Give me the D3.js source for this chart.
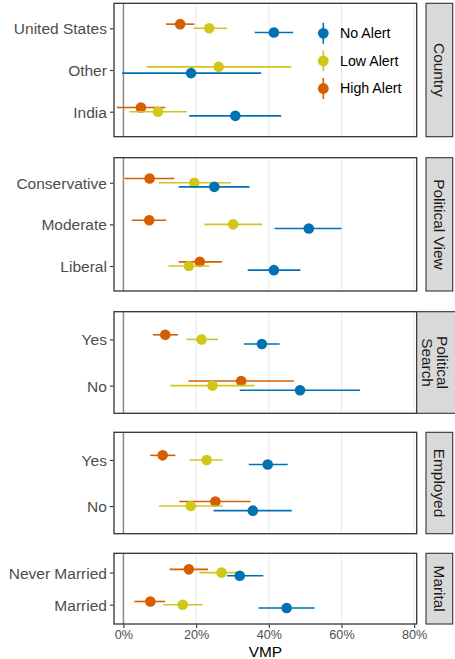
<!DOCTYPE html>
<html><head><meta charset="utf-8">
<script src="https://cdn.jsdelivr.net/npm/d3@7"></script>
<style>body{margin:0;background:#fff}svg{display:block}text{font-family:"Liberation Sans",Arial,sans-serif}</style>
</head><body><svg id="c" width="455" height="659"></svg>
<script>
// ---- data ----
const groups = ["No Alert", "Low Alert", "High Alert"];
const tickValues = [0, 20, 40, 60, 80];
const tickLabels = ["0%", "20%", "40%", "60%", "80%"];
const facetNames = ["Country", "Political View", "Political\nSearch", "Employed", "Marital"];

// each entry: [estimate, low, high] in %, null = missing
const countryCats = ["United States", "Other", "India"];
const countryNo   = [[41.4, 36.1, 46.7], [18.6, -0.4, 37.9], [30.8, 18.1, 43.4]];
const countryLow  = [[23.6, 19.3, 28.5], [26.2, 6.4, 46.2], [9.5, 1.6, 17.5]];
const countryHigh = [[15.6, 11.7, 19.5], null, [4.8, -1.8, 11.5]];

const viewCats = ["Conservative", "Moderate", "Liberal"];
const viewNo   = [[25.0, 15.2, 34.7], [51.0, 41.6, 60.0], [41.4, 34.2, 48.7]];
const viewLow  = [[19.5, 9.7, 29.6], [30.2, 22.3, 38.2], [18.0, 12.4, 23.6]];
const viewHigh = [[7.2, 0.3, 14.0], [7.1, 2.3, 11.8], [21.0, 15.2, 27.1]];

const searchCats = ["Yes", "No"];
const searchNo   = [[38.1, 33.1, 43.0], [48.6, 32.0, 65.1]];
const searchLow  = [[21.5, 17.3, 26.0], [24.5, 12.9, 36.1]];
const searchHigh = [[11.5, 8.1, 15.0], [32.4, 17.9, 46.9]];

const employedCats = ["Yes", "No"];
const employedNo   = [[39.7, 34.5, 45.2], [35.6, 24.8, 46.3]];
const employedLow  = [[22.9, 18.2, 27.3], [18.5, 9.8, 27.3]];
const employedHigh = [[10.8, 7.4, 14.3], [25.3, 15.4, 35.0]];

const maritalCats = ["Never Married", "Married"];
const maritalNo   = [[32.0, 28.5, 38.5], [44.9, 37.2, 52.6]];
const maritalLow  = [[27.0, 20.9, 31.4], [16.3, 11.0, 21.8]];
const maritalHigh = [[18.0, 12.7, 23.3], [7.4, 3.0, 11.5]];

const facetCats = [countryCats, viewCats, searchCats, employedCats, maritalCats];
const facetSeries = [
  [countryNo, countryLow, countryHigh],
  [viewNo, viewLow, viewHigh],
  [searchNo, searchLow, searchHigh],
  [employedNo, employedLow, employedHigh],
  [maritalNo, maritalLow, maritalHigh]
];

// ---- layout ----
const colors = {"No Alert": "#0072B2", "Low Alert": "#D0C71A", "High Alert": "#D55E00"};
const panelX0 = 114, panelX1 = 416.7;
const panelY = [[3.3, 136.7], [157.7, 291], [311.7, 413.3], [432.3, 533.7], [553.3, 624]];
const x = d3.scaleLinear().domain([-2.6, 80.7]).range([panelX0, panelX1]);
const svg = d3.select("#c");
const dark = "#333333", axisTextCol = "#4d4d4d";

facetNames.forEach((fname, fi) => {
  const [y0, y1] = panelY[fi];
  const cats = facetCats[fi];
  const y = d3.scalePoint().domain(cats).range([y0, y1]).padding(0.6);
  const step = y.step();
  const g = svg.append("g");

  // grid
  g.selectAll(".grid").data(tickValues).enter().append("line")
    .attr("x1", d => x(d)).attr("x2", d => x(d)).attr("y1", y0).attr("y2", y1)
    .attr("stroke", "#ebebeb").attr("stroke-width", 1.1);
  // zero line
  g.append("line").attr("x1", x(0)).attr("x2", x(0)).attr("y1", y0).attr("y2", y1)
    .attr("stroke", "#8a8a8a").attr("stroke-width", 1.5);

  // data
  const pts = [];
  cats.forEach((c, ci) => {
    const present = groups.map((gname, gi) => ({gname, v: facetSeries[fi][gi][ci]})).filter(d => d.v);
    const n = present.length;
    const w = 0.3 / n;
    const ordered = present.slice().reverse();
    ordered.forEach((d, k) => {
      const off = (k - (n - 1) / 2) * w * step;
      pts.push({gname: d.gname, v: d.v, yy: y(c) + off});
    });
  });
  pts.forEach(p => {
    g.append("line").attr("x1", x(p.v[1])).attr("x2", x(p.v[2])).attr("y1", p.yy).attr("y2", p.yy)
      .attr("stroke", colors[p.gname]).attr("stroke-width", 1.6);
    g.append("circle").attr("cx", x(p.v[0])).attr("cy", p.yy).attr("r", 5.3)
      .attr("fill", colors[p.gname]);
  });

  // border
  g.append("rect").attr("x", panelX0).attr("y", y0).attr("width", panelX1 - panelX0).attr("height", y1 - y0)
    .attr("fill", "none").attr("stroke", dark).attr("stroke-width", 1.3);

  // y axis
  const ya = d3.axisLeft(y).tickSize(3.5).tickPadding(3);
  const yg = g.append("g").attr("transform", `translate(${panelX0 - 0.6},0)`).call(ya);
  yg.select(".domain").remove();
  yg.selectAll("line").attr("stroke", dark).attr("stroke-width", 1.1);
  yg.selectAll("text").attr("fill", axisTextCol).style("font-size", "15.5px").attr("dy", "0.35em");

  // strip
  const isTwo = fname.includes("\n");
  const sx0 = isTwo ? 416.7 : 426, sx1 = isTwo ? 456 : 452.7;
  g.append("rect").attr("x", sx0).attr("y", y0).attr("width", sx1 - sx0).attr("height", y1 - y0)
    .attr("fill", "#d9d9d9").attr("stroke", dark).attr("stroke-width", 1.1);
  const lines = fname.split("\n");
  const cx = (sx0 + Math.min(sx1, 455)) / 2 + (isTwo ? -1 : 0), cy = (y0 + y1) / 2;
  const t = g.append("text").attr("transform", `translate(${cx},${cy}) rotate(90)`)
    .attr("text-anchor", "middle").attr("fill", "#1a1a1a").style("font-size", "15.4px");
  lines.forEach((l, i) => {
    t.append("tspan").attr("x", 0).attr("y", (i - (lines.length - 1) / 2) * 15.5).attr("dy", "0.35em").text(l);
  });

  // x axis on last panel
  if (fi === facetNames.length - 1) {
    const xa = d3.axisBottom(x).tickValues(tickValues).tickFormat((d, i) => tickLabels[i]).tickSize(3.5).tickPadding(2);
    const xg = g.append("g").attr("transform", `translate(0,${y1 + 0.6})`).call(xa);
    xg.select(".domain").remove();
    xg.selectAll("line").attr("stroke", dark).attr("stroke-width", 1.1);
    xg.selectAll("text").attr("fill", axisTextCol).style("font-size", "12.6px");
    svg.append("text").attr("x", (panelX0 + panelX1) / 2).attr("y", 656.5).attr("text-anchor", "middle")
      .attr("fill", "#000").style("font-size", "15.4px").text("VMP");
  }
});

// legend
const leg = svg.append("g");
groups.forEach((gname, i) => {
  const ly = 33.3 + i * 27.6;
  leg.append("line").attr("x1", 323.3).attr("x2", 323.3).attr("y1", ly - 10.5).attr("y2", ly + 10.5)
    .attr("stroke", colors[gname]).attr("stroke-width", 1.6);
  leg.append("circle").attr("cx", 323.3).attr("cy", ly).attr("r", 5.4).attr("fill", colors[gname]);
  leg.append("text").attr("x", 340).attr("y", ly).attr("dy", "0.35em").attr("fill", "#000")
    .style("font-size", "14.2px").text(gname);
});
</script></body></html>
